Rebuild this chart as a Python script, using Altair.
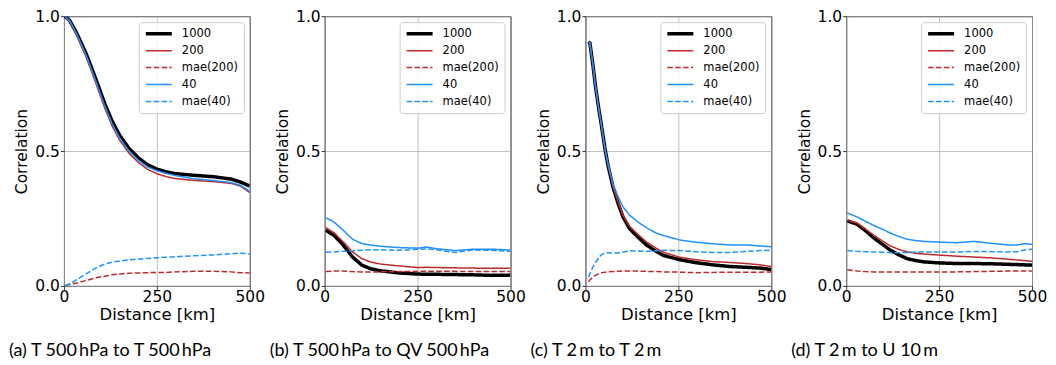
import altair as alt
import pandas as pd

SERIES = ["1000", "200", "mae(200)", "40", "mae(40)"]
COLORS = ["#000000", "#be2a2a", "#be2a2a", "#1e90ff", "#1e90ff"]
DASHES = [[1, 0], [1, 0], [5.5, 2.4], [1, 0], [5.5, 2.4]]
WIDTHS = [3.5, 1.5, 1.5, 1.5, 1.5]

CAPTIONS = [
    "(a) T 500\u2009hPa to T 500\u2009hPa",
    "(b) T 500\u2009hPa to QV 500\u2009hPa",
    "(c) T 2\u2009m to T 2\u2009m",
    "(d) T 2\u2009m to U 10\u2009m",
]

# (a) T 500 hPa to T 500 hPa
A_X = [3, 15, 35, 60, 85, 110, 130, 150, 175, 200, 225, 250, 275, 300, 350, 400, 450, 475, 500]
A_1000 = [1.0, 0.985, 0.935, 0.86, 0.77, 0.675, 0.61, 0.558, 0.51, 0.475, 0.449, 0.433, 0.423, 0.416, 0.41, 0.405, 0.396, 0.385, 0.37]
A_200 = [1.0, 0.982, 0.928, 0.848, 0.755, 0.658, 0.592, 0.54, 0.492, 0.458, 0.432, 0.416, 0.405, 0.398, 0.391, 0.387, 0.38, 0.37, 0.346]
A_MAE200 = [0.002, 0.005, 0.011, 0.02, 0.03, 0.036, 0.041, 0.044, 0.047, 0.048, 0.049, 0.05, 0.05, 0.052, 0.054, 0.054, 0.052, 0.049, 0.048]
A_40 = [1.0, 0.984, 0.932, 0.854, 0.762, 0.666, 0.6, 0.548, 0.5, 0.466, 0.441, 0.427, 0.417, 0.409, 0.397, 0.391, 0.383, 0.373, 0.351]
A_MAE40 = [0.0, 0.008, 0.023, 0.045, 0.066, 0.081, 0.088, 0.092, 0.097, 0.099, 0.102, 0.104, 0.106, 0.108, 0.112, 0.115, 0.119, 0.122, 0.117]

# (b) T 500 hPa to QV 500 hPa
B_X = [3, 25, 50, 75, 100, 125, 150, 200, 250, 275, 300, 350, 400, 450, 500]
B_1000 = [0.206, 0.188, 0.151, 0.107, 0.077, 0.063, 0.056, 0.048, 0.044, 0.043, 0.043, 0.042, 0.041, 0.039, 0.040]
B_200 = [0.216, 0.197, 0.163, 0.126, 0.101, 0.088, 0.081, 0.074, 0.068, 0.069, 0.068, 0.067, 0.066, 0.065, 0.066]
B_MAE200 = [0.053, 0.055, 0.055, 0.053, 0.052, 0.052, 0.052, 0.053, 0.054, 0.054, 0.054, 0.054, 0.053, 0.053, 0.053]
B_40 = [0.253, 0.237, 0.206, 0.173, 0.157, 0.151, 0.147, 0.142, 0.140, 0.144, 0.138, 0.131, 0.136, 0.136, 0.133]
B_MAE40 = [0.125, 0.126, 0.128, 0.130, 0.132, 0.134, 0.134, 0.132, 0.136, 0.137, 0.134, 0.124, 0.133, 0.132, 0.128]

# (c) T 2 m to T 2 m
C_X = [8, 12, 20, 28, 36, 43, 53, 61, 74, 88, 101, 119, 142, 164, 190, 210, 254, 298, 343, 388, 432, 470, 500]
C_1000 = [0.905, 0.9, 0.82, 0.73, 0.655, 0.595, 0.505, 0.445, 0.367, 0.305, 0.256, 0.212, 0.18, 0.152, 0.128, 0.113, 0.097, 0.086, 0.078, 0.072, 0.069, 0.066, 0.061]
C_200 = [0.905, 0.9, 0.82, 0.73, 0.655, 0.595, 0.505, 0.447, 0.37, 0.31, 0.262, 0.22, 0.19, 0.163, 0.14, 0.125, 0.106, 0.097, 0.09, 0.087, 0.083, 0.078, 0.072]
C_MAE200 = [0.015, 0.022, 0.032, 0.04, 0.046, 0.049, 0.051, 0.052, 0.053, 0.054, 0.055, 0.055, 0.055, 0.054, 0.053, 0.052, 0.051, 0.049, 0.05, 0.051, 0.051, 0.051, 0.052]
C_40 = [0.905, 0.9, 0.82, 0.73, 0.655, 0.595, 0.505, 0.45, 0.379, 0.33, 0.293, 0.262, 0.236, 0.216, 0.196, 0.187, 0.17, 0.162, 0.156, 0.152, 0.152, 0.148, 0.145]
C_MAE40 = [0.033, 0.045, 0.07, 0.088, 0.105, 0.116, 0.122, 0.123, 0.122, 0.122, 0.126, 0.130, 0.129, 0.128, 0.13, 0.132, 0.131, 0.127, 0.124, 0.124, 0.128, 0.131, 0.132]

# (d) T 2 m to U 10 m
D_X = [3, 29, 51, 74, 97, 119, 142, 164, 187, 209, 254, 299, 344, 389, 434, 461, 479, 500]
D_1000 = [0.241, 0.229, 0.206, 0.178, 0.155, 0.132, 0.115, 0.101, 0.094, 0.089, 0.085, 0.083, 0.083, 0.082, 0.080, 0.079, 0.078, 0.077]
D_200 = [0.243, 0.233, 0.212, 0.188, 0.167, 0.148, 0.135, 0.126, 0.121, 0.118, 0.114, 0.110, 0.107, 0.104, 0.099, 0.096, 0.094, 0.091]
D_MAE200 = [0.060, 0.055, 0.053, 0.052, 0.052, 0.052, 0.052, 0.052, 0.052, 0.052, 0.052, 0.052, 0.053, 0.054, 0.055, 0.055, 0.055, 0.055]
D_40 = [0.270, 0.256, 0.240, 0.224, 0.210, 0.196, 0.183, 0.173, 0.168, 0.165, 0.162, 0.160, 0.165, 0.158, 0.152, 0.152, 0.157, 0.154]
D_MAE40 = [0.131, 0.128, 0.127, 0.126, 0.125, 0.123, 0.123, 0.124, 0.125, 0.126, 0.126, 0.126, 0.128, 0.127, 0.126, 0.127, 0.133, 0.136]

PANELS = [
    (A_X, [A_1000, A_200, A_MAE200, A_40, A_MAE40]),
    (B_X, [B_1000, B_200, B_MAE200, B_40, B_MAE40]),
    (C_X, [C_1000, C_200, C_MAE200, C_40, C_MAE40]),
    (D_X, [D_1000, D_200, D_MAE200, D_40, D_MAE40]),
]

FONT = "DejaVu Sans"


def make_df(xs, ys_list):
    rows = []
    for s, ys in zip(SERIES, ys_list):
        for x, y in zip(xs, ys):
            rows.append({"d": x, "v": y, "s": s})
    return pd.DataFrame(rows)


def legend():
    return alt.Legend(
        title=None,
        orient="top-right",
        offset=6,
        symbolType="stroke",
        symbolSize=676,
        clipHeight=13,
        rowPadding=4,
        labelOffset=8,
        labelFont=FONT,
        labelFontSize=11.5,
        labelColor="black",
        padding=5,
        fillColor="rgba(255,255,255,0.85)",
        strokeColor="#cccccc",
        cornerRadius=3,
    )


def panel(xs, ys_list, caption):
    df = make_df(xs, ys_list)
    return (
        alt.Chart(df)
        .mark_line(clip=True)
        .encode(
            x=alt.X(
                "d:Q",
                scale=alt.Scale(domain=[0, 500], nice=False),
                axis=alt.Axis(values=[0, 250, 500], format="d", title="Distance [km]"),
            ),
            y=alt.Y(
                "v:Q",
                scale=alt.Scale(domain=[0, 1], nice=False),
                axis=alt.Axis(values=[0, 0.5, 1], format=".1f", title="Correlation"),
            ),
            color=alt.Color("s:N", scale=alt.Scale(domain=SERIES, range=COLORS), legend=legend()),
            strokeDash=alt.StrokeDash("s:N", scale=alt.Scale(domain=SERIES, range=DASHES), legend=legend()),
            strokeWidth=alt.StrokeWidth(
                "s:N", scale=alt.Scale(type="ordinal", domain=SERIES, range=WIDTHS), legend=legend()
            ),
        )
        .properties(
            width=186,
            height=270,
            title=alt.TitleParams(
                caption,
                orient="bottom",
                anchor="start",
                frame="group",
                dx=-55,
                offset=19,
                font="Lato",
                fontSize=18,
                fontWeight="normal",
                color="black",
            ),
        )
    )


charts = [panel(xs, ys, cap) for (xs, ys), cap in zip(PANELS, CAPTIONS)]

chart = (
    alt.hconcat(*charts, spacing=75, bounds="flush")
    .resolve_scale(color="independent", strokeDash="independent", strokeWidth="independent")
    .resolve_legend(color="independent", strokeDash="independent", strokeWidth="independent")
    .properties(padding={"left": 0, "top": 0, "right": 0, "bottom": 0})
    .configure_view(stroke="black", strokeWidth=1)
    .configure_axis(
        domain=False,
        grid=True,
        gridColor="#b0b0b0",
        gridWidth=0.8,
        tickColor="black",
        tickSize=3.5,
        tickWidth=0.8,
        labelFont=FONT,
        labelFontSize=15.5,
        labelColor="black",
        labelFlush=False,
        labelOverlap=False,
        titleFont=FONT,
        titleFontWeight="normal",
        titleColor="black",
    )
    .configure_axisX(labelPadding=0.5, titlePadding=1, titleFontSize=16.5)
    .configure_axisY(labelPadding=1, titlePadding=5, titleFontSize=15.5)
)

chart.save("out.html", embed_options={"renderer": "svg", "actions": False})
